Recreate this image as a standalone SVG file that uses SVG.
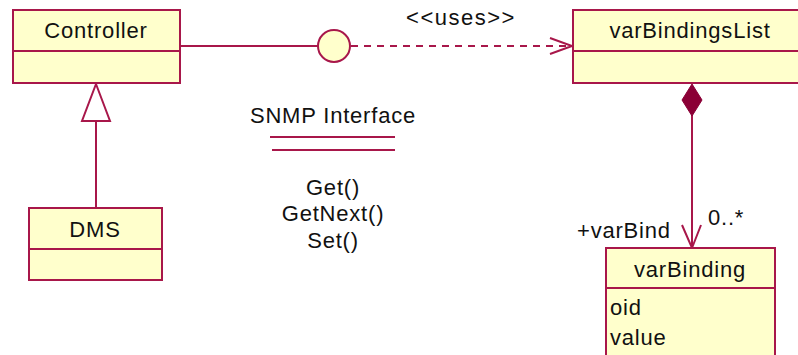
<svg xmlns="http://www.w3.org/2000/svg" width="798" height="355" viewBox="0 0 798 355">
<style>
.box{fill:#FFFFCC;stroke:#A8174A;stroke-width:2}
.ln{stroke:#A8174A;stroke-width:2;fill:none}
.t{font-family:"Liberation Sans",Arial,sans-serif;font-size:22px;fill:#111;letter-spacing:0.8px}
.c{text-anchor:middle}
</style>
<rect width="798" height="355" fill="#fff"/>
<g id="connectors">
<line class="ln" x1="180" y1="46" x2="318" y2="46"/>
<line class="ln" x1="351" y1="46" x2="570" y2="46" stroke-dasharray="7,6"/>
<polyline class="ln" points="550,38 572,46 550,54"/>
<text class="t c" x="461" y="25" font-size="19" style="letter-spacing:1.5px">&lt;&lt;uses&gt;&gt;</text>
<line class="ln" x1="96" y1="121" x2="96" y2="208"/>
<polygon points="96,84 110,121 82,121" fill="#fff" stroke="#A8174A" stroke-width="2"/>
<line class="ln" x1="692" y1="115" x2="692" y2="248"/>
<polygon points="692,84 702,100 692,116 682,100" fill="#8B0036" stroke="#8B0036" stroke-width="1"/>
<polyline class="ln" points="682,225 692,248 701,225"/>
<text class="t" x="577" y="238">+varBind</text>
<text class="t" x="708" y="225">0..*</text>
</g>
<g id="Controller">
<rect class="box" x="13" y="10" width="167" height="73"/>
<line class="ln" x1="13" y1="51" x2="180" y2="51"/>
<text class="t c" x="96" y="38">Controller</text>
</g>
<g id="DMS">
<rect class="box" x="29" y="208" width="133" height="72"/>
<line class="ln" x1="29" y1="249" x2="162" y2="249"/>
<text class="t c" x="95" y="237">DMS</text>
</g>
<g id="SNMPInterface">
<circle cx="334" cy="46" r="16" fill="#FFFFCC" stroke="#A8174A" stroke-width="2"/>
<text class="t c" x="333" y="123">SNMP Interface</text>
<line class="ln" x1="270" y1="137" x2="395" y2="137"/>
<line class="ln" x1="272" y1="150" x2="395" y2="150"/>
<text class="t c" x="333" y="195">Get()</text>
<text class="t c" x="333" y="221">GetNext()</text>
<text class="t c" x="333" y="248">Set()</text>
</g>
<g id="varBindingsList">
<rect class="box" x="573" y="10" width="240" height="73"/>
<line class="ln" x1="573" y1="51" x2="813" y2="51"/>
<text class="t c" x="690" y="38">varBindingsList</text>
</g>
<g id="varBinding">
<rect class="box" x="606" y="248" width="169" height="120"/>
<line class="ln" x1="606" y1="288" x2="775" y2="288"/>
<text class="t c" x="690" y="277">varBinding</text>
<text class="t" x="610" y="315">oid</text>
<text class="t" x="610" y="345">value</text>
</g>
</svg>
